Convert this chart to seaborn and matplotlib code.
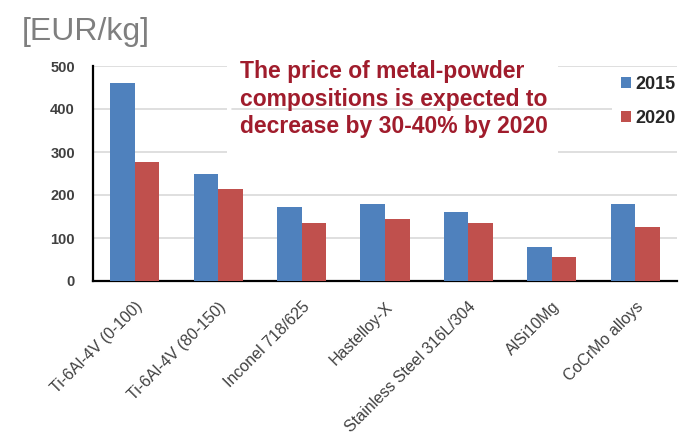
import matplotlib
matplotlib.use("Agg")
import matplotlib.pyplot as plt
import seaborn as sns
import pandas as pd
import numpy as np
from matplotlib.patches import Patch, Rectangle

categories = ["Ti-6Al-4V (0-100)", "Ti-6Al-4V (80-150)", "Inconel 718/625", "Hastelloy-X",
              "Stainless Steel 316L/304", "AlSi10Mg", "CoCrMo alloys"]
values_2015 = [460, 249, 172, 179, 160, 80, 179]
values_2020 = [277, 214, 135, 144, 136, 56, 126]
series = ["2015", "2020"]
colors = ["#4f81bd", "#c0504d"]
yticks = [0, 100, 200, 300, 400, 500]

df = pd.DataFrame({
    "category": categories * 2,
    "year": [series[0]] * len(categories) + [series[1]] * len(categories),
    "price": values_2015 + values_2020,
})

sns.set_theme(style="white")
plt.rcParams["font.family"] = ["Liberation Sans", "DejaVu Sans"]

W, H = 685, 436
fig = plt.figure(figsize=(6.85, 4.36), dpi=100)
ax = fig.add_axes([93/W, 1-281/H, (677-93)/W, (281-66)/H])

sns.barplot(data=df, x="category", y="price", hue="year", palette=colors,
            width=0.59, saturation=1, ax=ax, legend=False, zorder=3,
            linewidth=0, edgecolor="none")

grid_color = "#d9d9d9"
ax.set_ylim(0, 500)
ax.set_xlim(-0.5, len(categories) - 0.5)
ax.set_yticks(yticks)
ax.yaxis.grid(True, color=grid_color, linewidth=1.2, zorder=0)
ax.set_axisbelow(True)
ax.set_xlabel("")
ax.set_ylabel("")
for s in ["top", "right"]:
    ax.spines[s].set_visible(False)
for s in ["left", "bottom"]:
    ax.spines[s].set_color("black")
    ax.spines[s].set_linewidth(1.6)

ax.tick_params(axis="y", direction="out", length=4, width=1.4, color="black",
               labelsize=10.5, labelcolor="#404040", pad=9)
for lab in ax.get_yticklabels():
    lab.set_fontweight("bold")

ax.set_xticks(range(len(categories)))
ax.set_xticklabels(categories, rotation=45, ha="right", rotation_mode="anchor",
                   fontsize=11.5, color="#404040")
ax.tick_params(axis="x", which="major", length=0, pad=13)
ax.set_xticks(np.arange(-0.5, len(categories), 1.0), minor=True)
ax.tick_params(axis="x", which="minor", direction="out", length=5, width=1.4, color="black")

fig.text(22/W, 1-40/H, "[EUR/kg]", fontsize=23, color="#7f7f7f", va="baseline")

fig.text(205/W, 1+1.0/H, "Decrease of material costs", fontsize=22,
         color="#6cb4ea", va="baseline", fontweight="bold")

# white text box (covers some grid lines, as in the source slide)
box = Rectangle((227/W, 1-157/H), (558-227)/W, (157-57)/H, transform=fig.transFigure,
                facecolor="white", edgecolor="none", zorder=4, clip_on=False)
ax.add_patch(box)
ax.axhline(400, xmin=(232-93)/584, xmax=(558-93)/584, color=grid_color,
           linewidth=1.2, zorder=4.5)

ax.text(240/W, 1-133/H,
        "The price of metal-powder\ncompositions is expected to\ndecrease by 30-40% by 2020",
        transform=fig.transFigure, fontsize=16.5, fontweight="bold", color="#a01c2c",
        va="baseline", ha="left", linespacing=1.24, zorder=5)

handles = [Patch(facecolor=c, edgecolor="none") for c in colors]
leg = ax.legend(handles, series, loc="upper left", bbox_to_anchor=(612/W, 1-67/H),
                bbox_transform=fig.transFigure, frameon=True, facecolor="white",
                edgecolor="none", framealpha=1, fancybox=False, borderpad=0.5,
                handlelength=0.55, handleheight=0.55, handletextpad=0.25,
                labelspacing=0.95, borderaxespad=0, prop={"size": 13, "weight": "bold"})
leg.set_zorder(6)
for t in leg.get_texts():
    t.set_color("#262626")
# let the legend background also hide the 500 grid line to its right
leg.get_frame().set_y(leg.get_frame().get_y())

fig.savefig("out.png", dpi=100)
